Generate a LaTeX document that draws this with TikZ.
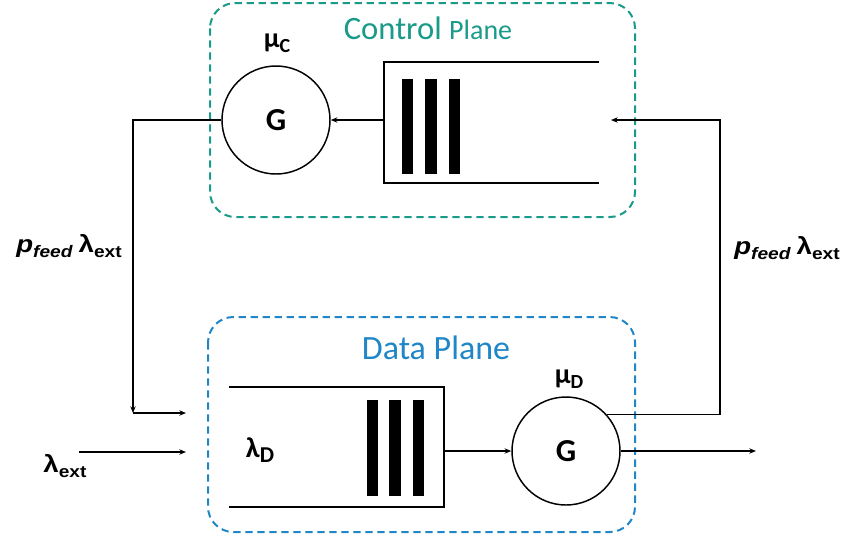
\documentclass[tikz,border=0pt]{standalone}
\usepackage{fontspec}
\setmainfont{Carlito}
\newfontfamily\arialf{Liberation Sans}
\usetikzlibrary{arrows.meta}
\definecolor{cpteal}{RGB}{26,154,136}
\definecolor{dpblue}{RGB}{31,134,199}
\newcommand{\pfeedlab}{\scalebox{1.15}[1]{\arialf\bfseries\itshape\fontsize{18}{18}\selectfont p\raisebox{-0.2em}{\fontsize{12.5}{12.5}\selectfont feed}\hspace{4pt}\upshape λ\raisebox{-0.2em}{\fontsize{12.5}{12.5}\selectfont ext}}}
\begin{document}
\begin{tikzpicture}[x=0.75pt,y=-0.75pt,
  planebox/.style={line width=1.5pt,dash pattern=on 5.5pt off 3.5pt,rounded corners=19pt},
  server/.style={circle,draw,line width=1.1pt,minimum size=81pt,inner sep=0pt,font=\bfseries\fontsize{24}{24}\selectfont},
  qline/.style={line width=1.6pt},
  bar/.style={fill=black,draw=none},
  conn/.style={line width=0.9pt},
  arr/.style={conn,-{Stealth[length=5pt,width=4pt]}},
  lbl/.style={inner sep=0pt,anchor=center}]
\useasboundingbox (0,0) rectangle (846,540);
% plane boxes
\draw[planebox,cpteal] (210,3) rectangle (635,217);
\draw[planebox,dpblue] (208,317) rectangle (635,532);
\node[lbl,text=cpteal] (cptitle) at (428,28) {\fontsize{24.5}{24}\selectfont Control \fontsize{21}{20}\selectfont Plane};
\node[lbl,text=dpblue] (dptitle) at (436,348) {\fontsize{25.5}{25}\selectfont Data Plane};
% control plane
\node[server] (gc) at (276,120) {G};
\node[lbl] (muc) at (277,43) {\bfseries\fontsize{21}{21}\selectfont μ\raisebox{-0.18em}{\fontsize{15}{15}\selectfont C}};
\coordinate (cqL) at (384,120);
\draw[qline] (599,62) -- (384,62) -- (384,183) -- (599,183);
\fill[bar] (402,79) rectangle (413,174);
\fill[bar] (425,79) rectangle (437,174);
\fill[bar] (449,79) rectangle (460,174);
% data plane
\node[server] (gd) at (566,451) {G};
\node[lbl] (mud) at (569,379) {\bfseries\fontsize{21}{21}\selectfont μ\raisebox{-0.18em}{\fontsize{15}{15}\selectfont D}};
\coordinate (dqR) at (444,451);
\draw[qline] (229,387) -- (444,387) -- (444,507) -- (229,507);
\fill[bar] (367,400) rectangle (378,496);
\fill[bar] (389,400) rectangle (401,496);
\fill[bar] (413,400) rectangle (424,496);
\node[lbl] (lamd) at (260,450) {\bfseries\fontsize{21.5}{21}\selectfont λ\raisebox{-0.18em}{\fontsize{17}{17}\selectfont D}};
% coordinates for connectors
\coordinate (cin) at (611,120);
\coordinate (fbR) at (720,120);
\coordinate (lx) at (133,413);
\coordinate (dqin) at (186,413);
\coordinate (extS) at (79,452);
\coordinate (extE) at (186,452);
\coordinate (outE) at (756,451);
% connectors
\draw[arr] (cqL) -- (gc.east);
\draw[arr] (gd.42) -- (gd.42 -| fbR) -- (fbR) -- (cin);
\draw[arr] (gc.west) -- (gc.west -| lx) -- (lx);
\draw[arr] (lx) -- (dqin);
\draw[arr] (extS) -- (extE);
\draw[arr] (dqR) -- (gd.west);
\draw[arr] (gd.east) -- (outE);
% labels
\node[lbl] (pl) at (69,246) {\pfeedlab};
\node[lbl] (pr) at (787,248) {\pfeedlab};
\node[lbl] (lext) at (65,466) {\scalebox{1.15}[1]{\arialf\bfseries\fontsize{18}{18}\selectfont λ\raisebox{-0.2em}{\fontsize{12.5}{12.5}\selectfont ext}}};
\end{tikzpicture}
\end{document}
